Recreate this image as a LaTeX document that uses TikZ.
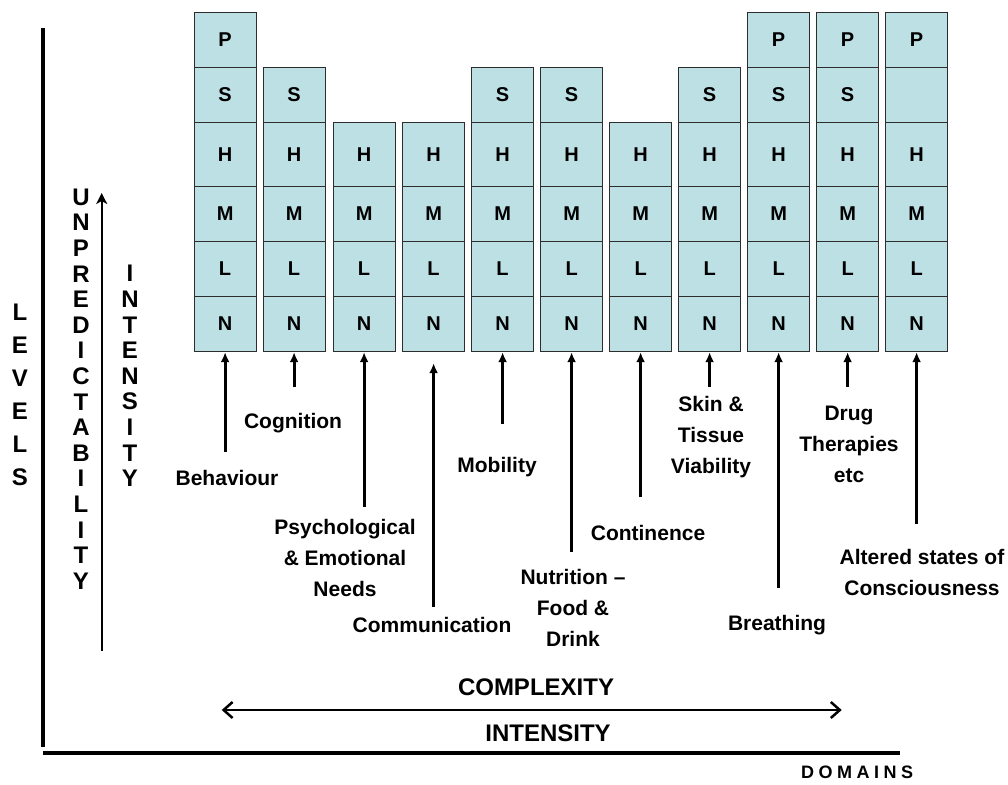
\documentclass[tikz,border=0pt]{standalone}
\usepackage{fontspec}
\setmainfont{Liberation Sans}
\usetikzlibrary{arrows.meta}
\definecolor{cellblue}{RGB}{188,224,228}
\definecolor{cellline}{RGB}{45,45,45}
\begin{document}
\begin{tikzpicture}[x=1pt,y=-1pt,
  cell/.style={draw=cellline, line width=1.2pt, fill=cellblue, minimum width=62pt,
    inner sep=0pt, anchor=north west, font=\fontsize{20}{20}\selectfont\bfseries},
  lab/.style={font=\fontsize{21}{31}\selectfont\bfseries, align=center, inner sep=0pt},
  big/.style={font=\fontsize{24}{24}\selectfont\bfseries, inner sep=0pt},
  stack/.style={font=\fontsize{24}{25.6}\selectfont\bfseries, align=center, inner sep=0pt},
  arr/.style={line width=3pt, -{Latex[length=10pt,width=9pt]}},
  axis/.style={line width=4pt}]
\path[use as bounding box] (0,0) rectangle (1008,784);

% grid of cells
\foreach \c/\x/\start/\blank in {1/193.5/1/0, 2/262.5/2/0, 3/332.5/3/0, 4/402/3/0,
    5/471/2/0, 6/540/2/0, 7/609/3/0, 8/678/2/0, 9/747/1/0, 10/816/1/0, 11/885/1/2}{
  \foreach \r/\top/\h [count=\k] in {P/12/55, S/67/55, H/122/64, M/186/55, L/241/55, N/296/55}{
    \ifnum\k<\start\relax\else
      \node[cell, minimum height=\h pt] (c\c\r) at (\x,\top) {\ifnum\k=\blank\relax\else\r\fi};
    \fi
  }
}

% domain arrows
\coordinate (t1) at (c1N.south |- 0,452);
\coordinate (t2) at (c2N.south |- 0,387);
\coordinate (t3) at (c3N.south |- 0,507);
\coordinate (t4) at (c4N.south |- 0,607);
\coordinate (t5) at (c5N.south |- 0,424);
\coordinate (t6) at (c6N.south |- 0,552);
\coordinate (t7) at (c7N.south |- 0,497);
\coordinate (t8) at (c8N.south |- 0,387);
\coordinate (t9) at (c9N.south |- 0,588);
\coordinate (t10) at (c10N.south |- 0,387);
\coordinate (t11) at (c11N.south |- 0,524);
\foreach \i in {1,2,3,5,6,7,8,9,10,11}{
  \draw[arr] (t\i) -- (c\i N.south);
}
\draw[arr, shorten >=11pt] (t4) -- (c4N.south);

% domain labels
\node[lab] (lBeh) at (227,478) {Behaviour};
\node[lab] (lCog) at (293,423) {Cognition};
\node[lab] (lPsy) at (345,558) {Psychological\\\& Emotional\\Needs};
\node[lab] (lCom) at (432,625) {Communication};
\node[lab] (lMob) at (497,467) {Mobility};
\node[lab] (lNut) at (573,608) {Nutrition --\\Food \&\\Drink};
\node[lab] (lCon) at (648,533) {Continence};
\node[lab] (lSki) at (711,437) {Skin \&\\Tissue\\Viability};
\node[lab] (lBre) at (777,625) {Breathing};
\node[lab] (lDru) at (849,444) {Drug\\Therapies\\etc};
\node[lab] (lAlt) at (922,572) {Altered states of\\Consciousness};

% axes
\coordinate (yTop) at (42.7,28);
\coordinate (yBot) at (42.7,747);
\draw[axis] (yTop) -- (yBot);
\coordinate (xL) at (43,753.3);
\coordinate (xR) at (900,753.3);
\draw[axis] (xL) -- (xR);

% vertical arrow and texts
\coordinate (uBot) at (101.7,651);
\coordinate (uTop) at (101.7,193);
\draw[line width=2pt, -{Stealth[length=11pt,width=11pt,inset=3pt]}] (uBot) -- (uTop);
\node[stack, font=\fontsize{24}{33}\selectfont\bfseries] (levels) at (20,395) {L\\E\\V\\E\\L\\S};
\node[stack] (unpred) at (81,389) {U\\N\\P\\R\\E\\D\\I\\C\\T\\A\\B\\I\\L\\I\\T\\Y};
\node[stack] (inten) at (130,376) {I\\N\\T\\E\\N\\S\\I\\T\\Y};

% horizontal arrow and texts
\coordinate (hL) at (221.7,710);
\coordinate (hR) at (841.7,710);
\draw[line width=2.5pt, {Straight Barb[length=9pt,width=16pt]}-{Straight Barb[length=9pt,width=16pt]}] (hL) -- (hR);
\node[big] (complexity) at (536,687) {COMPLEXITY};
\node[big] (intensity) at (548,733) {INTENSITY};
\node[font=\fontsize{18}{18}\selectfont\bfseries, inner sep=0pt] (domains) at (857,772)
  {D\hspace{4.5pt}O\hspace{4.5pt}M\hspace{4.5pt}A\hspace{4.5pt}I\hspace{4.5pt}N\hspace{4.5pt}S};
\end{tikzpicture}
\end{document}
